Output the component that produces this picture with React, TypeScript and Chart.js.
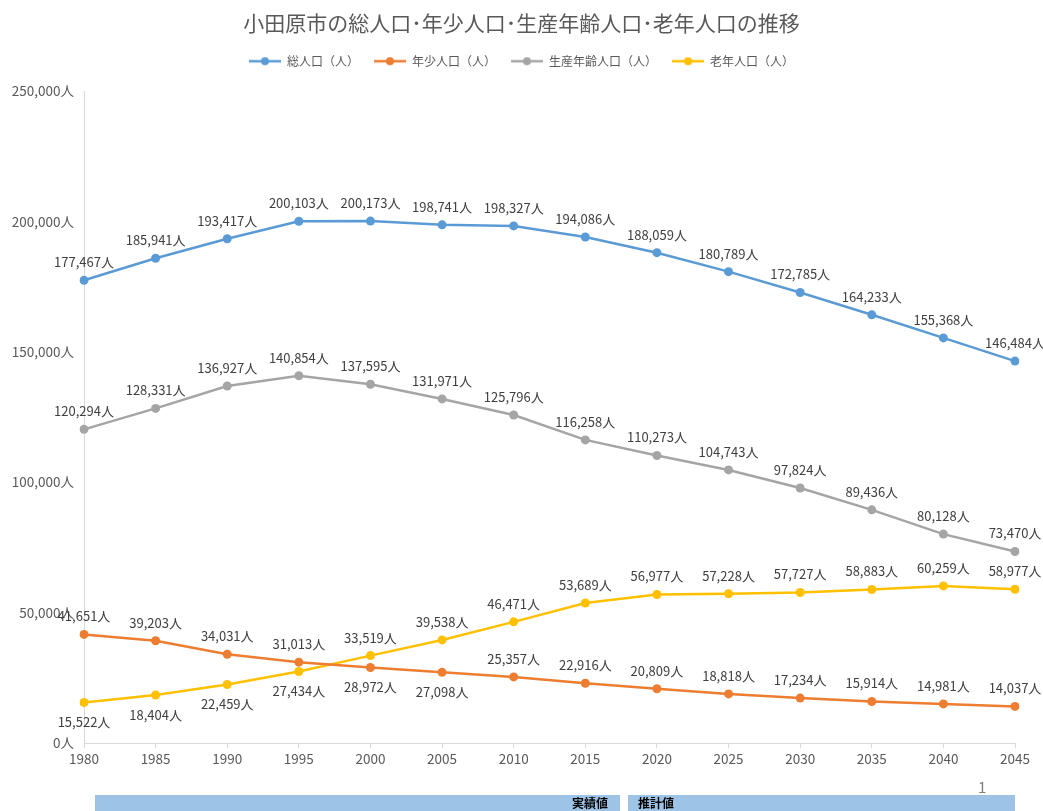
import React, { useEffect, useRef } from "react";
import { Chart, registerables } from "chart.js";

Chart.register(...registerables);

const years = ["1980", "1985", "1990", "1995", "2000", "2005", "2010", "2015", "2020", "2025", "2030", "2035", "2040", "2045"];
const total = [177467, 185941, 193417, 200103, 200173, 198741, 198327, 194086, 188059, 180789, 172785, 164233, 155368, 146484];
const young = [41651, 39203, 34031, 31013, 28972, 27098, 25357, 22916, 20809, 18818, 17234, 15914, 14981, 14037];
const working = [120294, 128331, 136927, 140854, 137595, 131971, 125796, 116258, 110273, 104743, 97824, 89436, 80128, 73470];
const elderly = [15522, 18404, 22459, 27434, 33519, 39538, 46471, 53689, 56977, 57228, 57727, 58883, 60259, 58977];

const seriesNames = ["総人口（人）", "年少人口（人）", "生産年齢人口（人）", "老年人口（人）"];
const seriesColors = ["#5B9BD5", "#ED7D31", "#A5A5A5", "#FFC000"];
const yTicks = [0, 50000, 100000, 150000, 200000, 250000];

const TEXT = "#595959";
const FONT = "'Noto Sans CJK JP', 'Noto Sans', sans-serif";

function makeMarker(color: string) {
  const c = document.createElement("canvas");
  c.width = 32;
  c.height = 10;
  const g = c.getContext("2d")!;
  g.strokeStyle = color;
  g.lineWidth = 2.5;
  g.beginPath();
  g.moveTo(0, 5);
  g.lineTo(32, 5);
  g.stroke();
  g.fillStyle = color;
  g.beginPath();
  g.arc(16, 5, 4, 0, Math.PI * 2);
  g.fill();
  return c;
}

const dataLabelPlugin = {
  id: "dataLabels",
  beforeLayout(chart: any) {
    const lg = chart.legend;
    if (lg && !lg.__patched) {
      const orig = lg.fit.bind(lg);
      lg.fit = function () {
        orig();
        this.height += 14;
      };
      lg.__patched = true;
    }
  },
  afterDatasetsDraw(chart: any) {
    const ctx = chart.ctx;
    ctx.save();
    ctx.font = `13px ${FONT}`;
    ctx.fillStyle = "#404040";
    ctx.textAlign = "center";
    ctx.textBaseline = "middle";
    chart.data.datasets.forEach((ds: any, i: number) => {
      const meta = chart.getDatasetMeta(i);
      const below: number[] = ds.labelBelow || [];
      meta.data.forEach((pt: any, j: number) => {
        const v = ds.data[j];
        const txt = v.toLocaleString("en-US") + "人";
        const dy = below.includes(j) ? 20 : -18;
        ctx.fillText(txt, pt.x, pt.y + dy);
      });
    });
    ctx.restore();
  },
};

export default function App() {
  const ref = useRef<HTMLCanvasElement | null>(null);
  useEffect(() => {
    if (!ref.current) return;
    const markers = seriesColors.map(makeMarker);
    const datas = [total, young, working, elderly];
    const belowMap: number[][] = [[], [4, 5], [], [0, 1, 2, 3]];
    const chart = new Chart(ref.current, {
      type: "line",
      data: {
        labels: years,
        datasets: datas.map((d, i) => ({
          label: seriesNames[i],
          data: d,
          borderColor: seriesColors[i],
          backgroundColor: seriesColors[i],
          borderWidth: 2.5,
          pointRadius: 4.5,
          pointHoverRadius: 4.5,
          pointBorderWidth: 0,
          tension: 0,
          fill: false,
          labelBelow: belowMap[i],
        })) as any,
      },
      options: {
        animation: false,
        responsive: true,
        maintainAspectRatio: false,
        layout: { padding: { left: 0, right: 0, top: 0, bottom: 38 } },
        plugins: {
          title: {
            display: true,
            text: "小田原市の総人口･年少人口･生産年齢人口･老年人口の推移",
            color: TEXT,
            font: { family: FONT, size: 21, weight: "normal" as any },
            padding: { top: 10, bottom: 5 },
          },
          legend: {
            display: true,
            position: "top",
            labels: {
              color: TEXT,
              font: { family: FONT, size: 12 },
              usePointStyle: true,
              pointStyleWidth: 32,
              boxHeight: 10,
              padding: 15,
              generateLabels(chart: any) {
                const items = Chart.defaults.plugins.legend.labels.generateLabels(chart);
                return items.map((it: any, i: number) => ({ ...it, pointStyle: markers[i] }));
              },
            },
          },
          tooltip: { enabled: false },
        },
        scales: {
          x: {
            type: "category",
            offset: false,
            grid: { display: true, drawOnChartArea: false, drawTicks: true, tickLength: 5, color: "#D9D9D9" },
            border: { display: true, color: "#D9D9D9" },
            ticks: { color: TEXT, font: { family: FONT, size: 13.5 }, padding: 3, maxRotation: 0, autoSkip: false },
            afterFit(scale: any) {
              scale.height = 30;
            },
          },
          y: {
            min: 0,
            max: 250000,
            afterBuildTicks(scale: any) {
              scale.ticks = yTicks.map((v) => ({ value: v }));
            },
            grid: { display: false },
            border: { display: true, color: "#D9D9D9" },
            ticks: {
              color: TEXT,
              font: { family: FONT, size: 13.5 },
              padding: 2,
              callback: (v: any) => Number(v).toLocaleString("en-US") + "人",
            },
            afterFit(scale: any) {
              scale.width = 84;
            },
          },
          yRight: {
            position: "right",
            display: true,
            min: 0,
            max: 250000,
            grid: { display: false },
            border: { display: false },
            ticks: { display: false },
            afterFit(scale: any) {
              scale.width = 28;
            },
          },
        },
      },
      plugins: [dataLabelPlugin],
    });
    return () => chart.destroy();
  }, []);

  return (
    <div style={{ position: "absolute", left: 0, top: 0, width: 1043, height: 811, background: "#fff", overflow: "hidden" }}>
      <canvas ref={ref} />
      <div style={{ position: "absolute", left: 978, top: 776, fontFamily: FONT, fontSize: 15, color: "#7f7f7f" }}>1</div>
      <div style={{ position: "absolute", left: 95, top: 795, width: 525, height: 16, background: "#9DC3E6" }}>
        <span style={{ position: "absolute", right: 12, top: 0, fontFamily: FONT, fontSize: 12, fontWeight: "bold", lineHeight: "16px", color: "#000" }}>実績値</span>
      </div>
      <div style={{ position: "absolute", left: 628, top: 795, width: 387, height: 16, background: "#9DC3E6" }}>
        <span style={{ position: "absolute", left: 10, top: 0, fontFamily: FONT, fontSize: 12, fontWeight: "bold", lineHeight: "16px", color: "#000" }}>推計値</span>
      </div>
    </div>
  );
}
